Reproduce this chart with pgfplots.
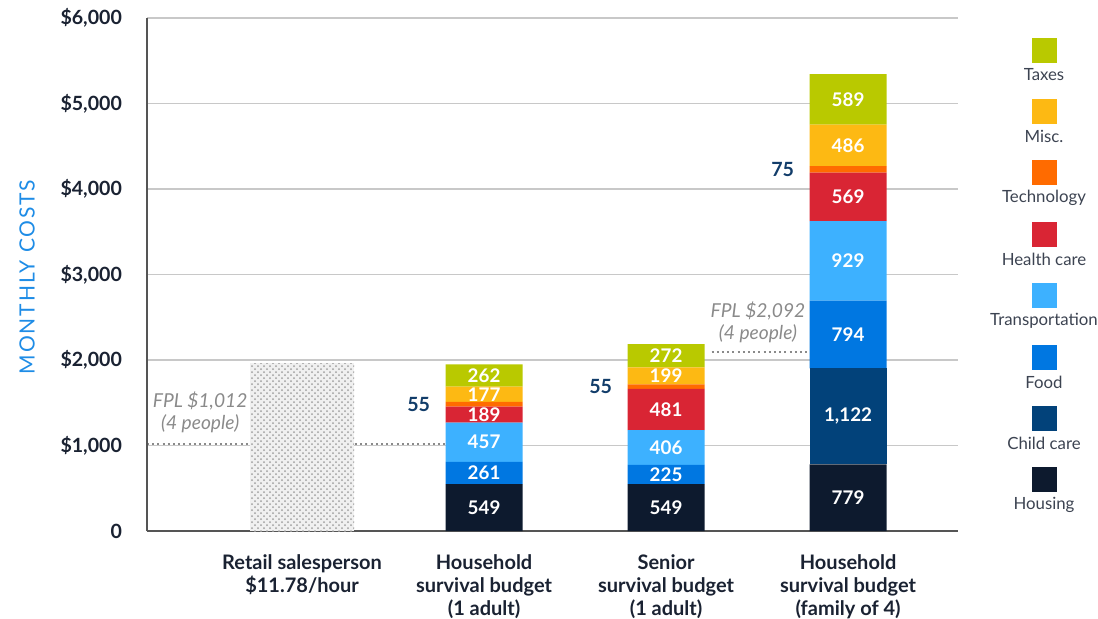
\documentclass[border=0pt]{standalone}
\usepackage{fontspec}
\setmainfont{Lato}
\usepackage{pgfplots}
\pgfplotsset{compat=1.18}
\usetikzlibrary{patterns}
\definecolor{cTaxes}{HTML}{B9C900}
\definecolor{cMisc}{HTML}{FDB913}
\definecolor{cTech}{HTML}{FF6B00}
\definecolor{cHealth}{HTML}{D92534}
\definecolor{cTrans}{HTML}{3DB1FF}
\definecolor{cFood}{HTML}{0077E1}
\definecolor{cChild}{HTML}{02427A}
\definecolor{cHouse}{HTML}{0D1A2E}
\definecolor{cText}{HTML}{1A2232}
\definecolor{cAxis}{HTML}{555555}
\definecolor{cGrid}{HTML}{C8C8C8}
\definecolor{cFpl}{HTML}{8A8A8A}
\definecolor{cYlab}{HTML}{1E8CE6}
\definecolor{cSmall}{HTML}{123D6A}
\begin{document}
\begin{tikzpicture}[x=1pt,y=1pt]
\useasboundingbox (0,0) rectangle (549,309);
% reference lines (behind bars)
\begin{axis}[at={(73.5pt,43.5pt)}, anchor=south west, scale only axis,
  width=405.5pt, height=256.5pt, xmin=-0.852, xmax=3.604, ymin=0, ymax=6000,
  axis lines=none, clip=false]
\addplot[cFpl, line width=1pt, dash pattern=on 1pt off 1.6pt] coordinates {(-0.852,1012) (0.79,1012)};
\addplot[cFpl, line width=1pt, dash pattern=on 1pt off 1.6pt] coordinates {(2.25,2092) (2.79,2092)};
\node[align=center, text=cFpl, font=\itshape\fontsize{9.6}{11}\selectfont] at (axis cs:-0.56,1385) {FPL \$1,012\\(4 people)};
\node[align=center, text=cFpl, font=\itshape\fontsize{9.6}{11}\selectfont] at (axis cs:2.505,2440) {FPL \$2,092\\(4 people)};
\end{axis}
\begin{axis}[at={(73.5pt,43.5pt)}, anchor=south west, scale only axis,
  width=405.5pt, height=256.5pt, xmin=-0.852, xmax=3.604, ymin=0, ymax=6000,
  ybar stacked, bar width=38.5pt,
  axis x line*=bottom, axis y line*=left,
  axis line style={-, draw=cAxis, line width=1.1pt},
  ymajorgrids, grid style={draw=cGrid, line width=0.8pt},
  major tick length=0pt,
  ytick={0,1000,2000,3000,4000,5000,6000},
  yticklabels={{0},{\$1,000},{\$2,000},{\$3,000},{\$4,000},{\$5,000},{\$6,000}},
  yticklabel style={font=\bfseries\fontsize{9.8}{11}\selectfont, text=cText, xshift=-9pt},
  xtick={0,1,2,3},
  xticklabels={{Retail salesperson\\\$11.78/hour},{Household\\survival budget\\(1 adult)},{Senior\\survival budget\\(1 adult)},{Household\\survival budget\\(family of 4)}},
  xticklabel style={align=center, font=\bfseries\fontsize{10}{11.5}\selectfont, text=cText, anchor=north, yshift=-8.5pt},
  point meta=explicit symbolic,
  nodes near coords,
  every node near coord/.append style={anchor=center, text=white, font=\bfseries\fontsize{9.4}{10}\selectfont},
  clip=false]
\addplot[draw=none, fill=gray!12, bar width=52pt, postaction={pattern=crosshatch dots, pattern color=gray!75}] coordinates {(0,1960) [] (1,0) [] (2,0) [] (3,0) []};
\addplot[draw=none, fill=cHouse] coordinates {(0,0) [] (1,549) [549] (2,549) [549] (3,779) [779]};
\addplot[draw=none, fill=cChild] coordinates {(0,0) [] (1,0) [] (2,0) [] (3,1122) [{1,122}]};
\addplot[draw=none, fill=cFood] coordinates {(0,0) [] (1,261) [261] (2,225) [225] (3,794) [794]};
\addplot[draw=none, fill=cTrans] coordinates {(0,0) [] (1,457) [457] (2,406) [406] (3,929) [929]};
\addplot[draw=none, fill=cHealth] coordinates {(0,0) [] (1,189) [189] (2,481) [481] (3,569) [569]};
\addplot[draw=none, fill=cTech, every node near coord/.append style={anchor=east, xshift=-23.5pt, text=cSmall, font=\bfseries\fontsize{9.8}{10}\selectfont}] coordinates {(0,0) [] (1,55) [55] (2,55) [55] (3,75) [75]};
\addplot[draw=none, fill=cMisc] coordinates {(0,0) [] (1,177) [177] (2,199) [199] (3,486) [486]};
\addplot[draw=none, fill=cTaxes] coordinates {(0,0) [] (1,262) [262] (2,272) [272] (3,589) [589]};
\end{axis}
% y axis title
\node[rotate=90, text=cYlab, font=\fontsize{10.5}{12}\selectfont\addfontfeatures{LetterSpace=9}] at (13.5,170.5) {MONTHLY COSTS};
% legend
\foreach \c/\t [count=\i from 0] in {cTaxes/Taxes, cMisc/Misc., cTech/Technology, cHealth/Health care, cTrans/Transportation, cFood/Food, cChild/Child care, cHouse/Housing}{
  \fill[\c] ({522-6.25},{284-30.7*\i-6.25}) rectangle ++(12.5,12.5);
  \node[text=cText!85, font=\fontsize{8.4}{9}\selectfont] at (522,{271.5-30.7*\i}) {\t};
}
\end{tikzpicture}
\end{document}
